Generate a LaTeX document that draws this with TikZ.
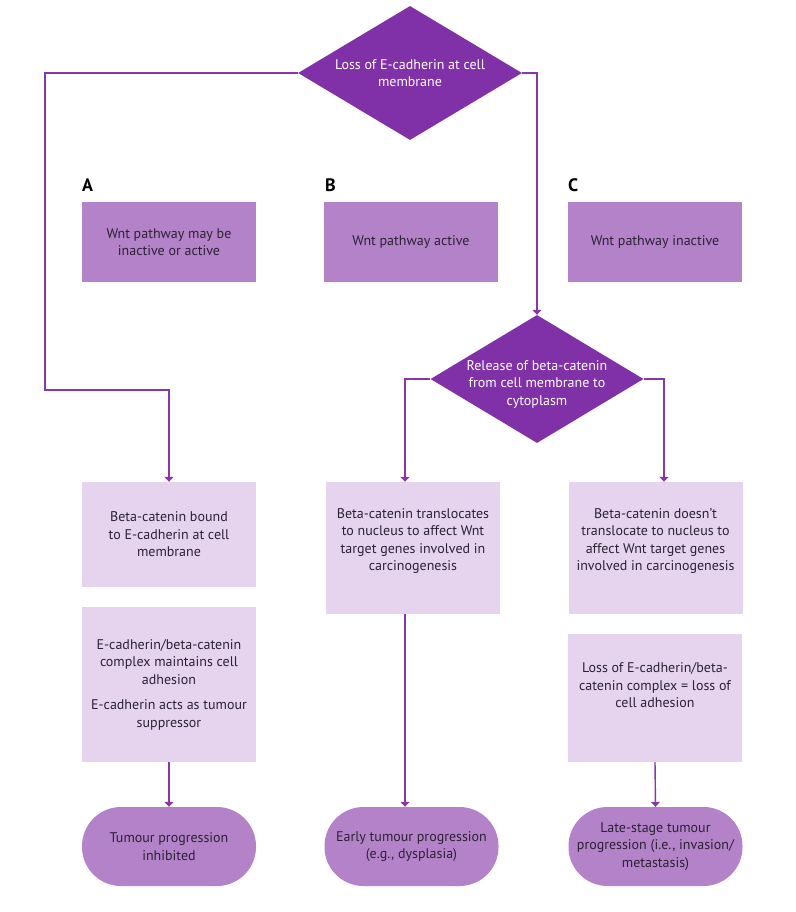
\documentclass[tikz,border=0pt]{standalone}
\usepackage{fontspec}
\setmainfont{PT Sans}
\usetikzlibrary{shapes.geometric,arrows.meta,positioning}
\definecolor{deeppurple}{HTML}{8031A7}
\definecolor{midpurple}{HTML}{B482C9}
\definecolor{palepurple}{HTML}{E6D4EE}
\definecolor{linepurple}{HTML}{8A35A8}
\definecolor{inkgrey}{HTML}{2B2233}

\begin{document}
\begin{tikzpicture}[x=1pt, y=-1pt, font=\fontsize{14}{17.5}\selectfont,
  decision/.style={diamond, shape aspect=1.67, fill=deeppurple, text=white, inner sep=-5pt, align=center},
  pathbox/.style={rectangle, fill=midpurple, text=inkgrey, minimum width=174pt, minimum height=80pt, inner sep=0pt, align=center},
  stepbox/.style={rectangle, fill=palepurple, text=inkgrey, minimum width=174pt, inner sep=0pt, align=center},
  endbox/.style={rectangle, rounded corners=39pt, fill=midpurple, text=inkgrey, minimum width=174pt, minimum height=79pt, inner sep=0pt, align=center},
  letter/.style={anchor=west, inner sep=0pt, text=black, font=\fontsize{18}{20}\selectfont\bfseries},
  flow/.style={draw=linepurple, line width=1.4pt, -{Triangle[width=9pt,length=5pt]}}]
	\useasboundingbox (0,0) rectangle (795,912);

	% top of the chart
	\node[decision, minimum width=224pt, minimum height=134pt] (loss) at (410,73) {Loss of E-cadherin at cell\\membrane};

	\node[letter] (labA) at (82,185) {A};
	\node[letter] (labB) at (325,185) {B};
	\node[letter] (labC) at (568,185) {C};

	\node[pathbox] (wntA) at (169,242) {Wnt pathway may be\\inactive or active};
	\node[pathbox] (wntB) at (411,242) {Wnt pathway active};
	\node[pathbox] (wntC) at (655,242) {Wnt pathway inactive};

	\node[decision, minimum width=213pt, minimum height=128pt, text height=55pt] (release) at (537,379) {Release of beta-catenin\\from cell membrane to\\cytoplasm};

	% column A
	\node[stepbox, minimum height=105pt] (boundA) at (169,534.5) {Beta-catenin bound\\to E-cadherin at cell\\membrane};
	\node[stepbox, minimum height=155pt] (adhA) at (169,684.5) {E-cadherin/beta-catenin\\complex maintains cell\\adhesion\\[8pt]E-cadherin acts as tumour\\suppressor};
	\node[endbox] (endA) at (169,846.5) {Tumour progression\\inhibited};

	% column B
	\node[stepbox, minimum height=132pt, text depth=17pt] (transB) at (413,548) {Beta-catenin translocates\\to nucleus to affect Wnt\\target genes involved in\\carcinogenesis};
	\node[endbox] (endB) at (411.5,846.5) {Early tumour progression\\(e.g., dysplasia)};

	% column C
	\node[stepbox, minimum height=132pt, text depth=17pt] (stayC) at (655.5,548) {Beta-catenin doesn't\\translocate to nucleus to\\affect Wnt target genes\\involved in carcinogenesis};
	\node[stepbox, minimum height=128pt, text depth=25pt] (lossC) at (655,698) {Loss of E-cadherin/beta-\\catenin complex = loss of\\cell adhesion};
	\node[endbox] (endC) at (655.5,846.5) {Late-stage tumour\\progression (i.e., invasion/\\metastasis)};

	% connectors
	\coordinate (leftbend) at (45,390);
	\coordinate (colB) at (405,0);
	\coordinate (colC) at (664,0);
	\draw[flow] (loss.west) -| (leftbend) -| (boundA.north);
	\draw[flow] (loss.east) -| (release.north);
	\draw[flow] (release.west) -| (colB |- transB.north);
	\draw[flow] (release.east) -| (colC |- stayC.north);
	\draw[flow] (adhA.south) -- (endA.north);
	\draw[flow] (colB |- transB.south) -- (colB |- endB.north);
	\draw[flow] (lossC.south) -- (endC.north);
\end{tikzpicture}
\end{document}
